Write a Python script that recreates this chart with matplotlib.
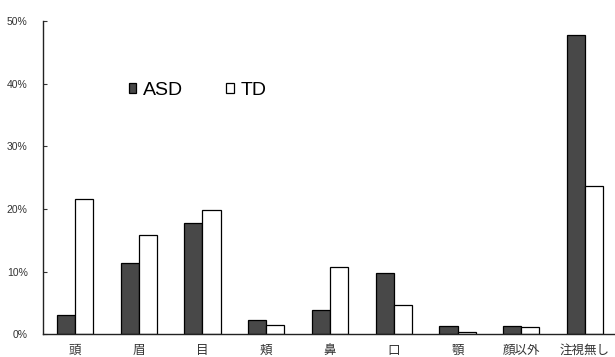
import numpy as np
import matplotlib
matplotlib.use('Agg')
import matplotlib.pyplot as plt
from matplotlib.ticker import FuncFormatter

categories = ['頭', '眉', '目', '頬', '鼻', '口', '顎', '顔以外', '注視無し']
asd = [3.0, 11.4, 17.7, 2.2, 3.8, 9.8, 1.3, 1.3, 47.8]
td = [21.6, 15.8, 19.9, 1.5, 10.7, 4.6, 0.4, 1.1, 23.7]
yticks = [0, 10, 20, 30, 40, 50]

plt.rcParams['font.family'] = ['Liberation Sans', 'Noto Sans CJK JP', 'DejaVu Sans']

fig = plt.figure(figsize=(6.15, 3.57), dpi=100)
ax = fig.add_axes([0.070, 0.064, 0.930, 0.877])

x = np.arange(len(categories))
w = 0.285
ax.bar(x - w / 2, asd, w, color='#484848', edgecolor='black', linewidth=0.9, label='ASD')
ax.bar(x + w / 2, td, w, color='white', edgecolor='black', linewidth=0.9, label='TD')

ax.set_xlim(-0.5, 8.47)
ax.set_ylim(0, 50)
ax.set_yticks(yticks)
ax.yaxis.set_major_formatter(FuncFormatter(lambda v, p: '%d%%' % v))
ax.tick_params(axis='y', direction='in', length=3, width=0.8, labelsize=7.5, pad=11, colors='#333333')
ax.set_xticks(x)
ax.set_xticklabels(categories, family=['Noto Sans CJK JP'], fontsize=9, color='#333333')
ax.tick_params(axis='x', length=0, pad=7)

for s in ['top', 'right']:
    ax.spines[s].set_visible(False)
for s in ['left', 'bottom']:
    ax.spines[s].set_linewidth(1.0)
    ax.spines[s].set_color('#222222')

ax.legend(loc='upper left', bbox_to_anchor=(0.136, 0.83), ncol=2, frameon=False,
          fontsize=14, handlelength=0.4, handleheight=0.4, handletextpad=0.35,
          columnspacing=2.2, borderaxespad=0)

fig.savefig('out.png', dpi=100)
